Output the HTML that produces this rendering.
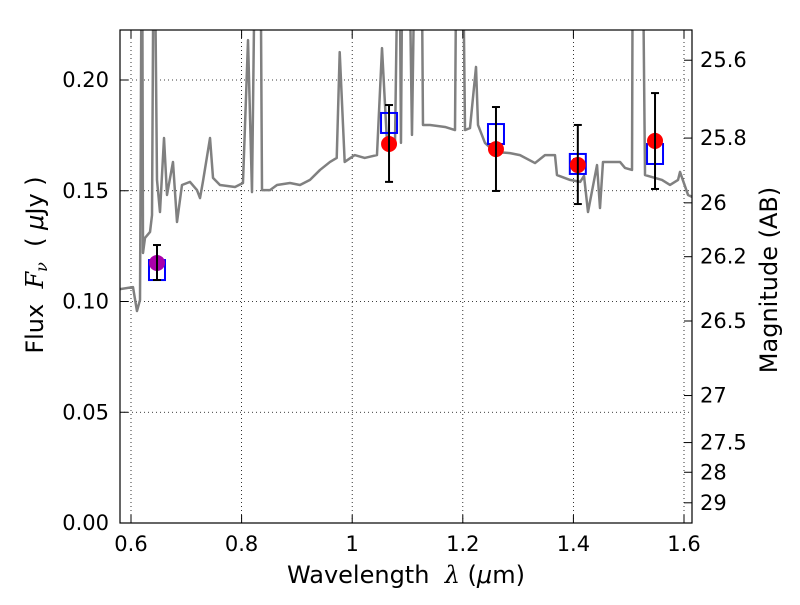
<!DOCTYPE html>
<html><head><meta charset="utf-8"><style>
body{margin:0;background:#fff}
svg text{font-family:"DejaVu Sans","Liberation Sans",sans-serif;fill:#000}
</style></head><body>
<svg id="chart" width="800" height="600" viewBox="0 0 800 600">
<defs><clipPath id="clip"><rect x="120" y="30" width="572" height="493"/></clipPath></defs>
<rect width="800" height="600" fill="#fff"/>
<g id="grid"></g>
<g id="spec" clip-path="url(#clip)"></g>
<g id="marks"></g>
<rect x="120" y="30" width="572" height="493" fill="none" stroke="#000" stroke-width="1.2"/>
<g id="axes"></g>
<text x="406" y="583" font-size="24" text-anchor="middle" xml:space="preserve">Wavelength  <tspan font-family="DejaVu Serif" font-style="italic">λ</tspan> (<tspan font-style="italic">μ</tspan>m)</text>
<text transform="translate(43,265) rotate(-90)" font-size="24" text-anchor="middle" xml:space="preserve">Flux  <tspan font-family="DejaVu Serif" font-style="italic">F<tspan font-size="16" dy="4">ν</tspan></tspan><tspan dy="-4">  ( </tspan><tspan font-style="italic">μ</tspan>Jy )</text>
<text transform="translate(777,280) rotate(-90)" font-size="24" text-anchor="middle">Magnitude (AB)</text>
</svg>
<script>
const specWave=[0.580,0.6036,0.6108,0.6163,0.6199,0.6217,0.6253,0.6344,0.638,0.6416,0.647,0.6524,0.6597,0.6651,0.6759,0.6832,0.6922,0.7067,0.7193,0.7248,0.73,0.7429,0.7483,0.7609,0.7881,0.8025,0.8116,0.8188,0.826,0.8333,0.8369,0.8514,0.864,0.8875,0.9056,0.9237,0.9418,0.9599,0.972,0.9774,0.9864,1.0045,1.0226,1.0448,1.0539,1.0629,1.0774,1.0846,1.0882,1.0919,1.1009,1.1081,1.1154,1.1244,1.128,1.1407,1.1678,1.1859,1.1895,1.1986,1.204,1.213,1.2239,1.2275,1.2401,1.2582,1.2854,1.3034,1.3306,1.3486,1.3667,1.3703,1.3938,1.4123,1.4192,1.4264,1.4427,1.4481,1.4535,1.4843,1.4933,1.506,1.5078,1.524,1.5295,1.5476,1.5602,1.5747,1.5892,1.5928,1.6073,1.615];
const specFlux=[0.1056,0.1065,0.0957,0.1007,0.3,0.1219,0.1287,0.1314,0.139,0.3,0.1549,0.1404,0.1738,0.1481,0.163,0.1359,0.1526,0.154,0.1503,0.1467,0.154,0.1738,0.1558,0.1526,0.1517,0.1535,0.218,0.1494,0.3,0.3,0.1503,0.1503,0.1526,0.1535,0.1526,0.1549,0.1594,0.163,0.1648,0.2126,0.163,0.1661,0.1648,0.1661,0.2144,0.172,0.1716,0.3,0.1716,0.3,0.3,0.1752,0.3,0.3,0.1797,0.1797,0.1788,0.1774,0.3,0.3,0.1774,0.1783,0.2059,0.1797,0.1716,0.1675,0.167,0.1661,0.1625,0.1661,0.1661,0.1571,0.1549,0.154,0.1567,0.1404,0.1616,0.1422,0.163,0.163,0.1603,0.1594,0.3,0.3,0.1571,0.1558,0.1549,0.1526,0.1549,0.1585,0.1481,0.1472];
const photWave=[0.647,1.0666,1.26,1.408,1.5476];
const photFlux=[0.1174,0.1711,0.1688,0.1616,0.1725];
const photErrHi=[0.1255,0.1887,0.1878,0.1797,0.1941];
const photErrLo=[0.1097,0.1540,0.1499,0.1440,0.1508];
const modelFlux=[0.1142,0.1806,0.1756,0.1621,0.1666];
const photColors=["#aa00aa","red","red","red","red"];
const xTicks=[0.6,0.8,1.0,1.2,1.4,1.6];
const xTickLabels=["0.6","0.8","1","1.2","1.4","1.6"];
const yTicks=[0,0.05,0.10,0.15,0.20];
const yTickLabels=["0.00","0.05","0.10","0.15","0.20"];
const magTicks=[25.6,25.8,26,26.2,26.5,27,27.5,28,29];
const magTickLabels=["25.6","25.8","26","26.2","26.5","27","27.5","28","29"];

const NS="http://www.w3.org/2000/svg";
const X=v=>131+(v-0.6)*553;
const Y=v=>523-v*2215;
const magToFlux=m=>Math.pow(10,(23.9-m)/2.5);
function mk(tag,attrs,parent){const e=document.createElementNS(NS,tag);for(const k in attrs)e.setAttribute(k,attrs[k]);parent.appendChild(e);return e;}
const grid=document.getElementById('grid'),axes=document.getElementById('axes'),spec=document.getElementById('spec'),marks=document.getElementById('marks');
xTicks.forEach((t,i)=>{
  const x=X(t);
  const g=mk('line',{x1:x,x2:x,y1:30,y2:523,stroke:'#000','stroke-width':0.8,'stroke-dasharray':'1,3'},grid);
  
  
  mk('line',{x1:x,x2:x,y1:523,y2:515,stroke:'#000'},axes);
  mk('line',{x1:x,x2:x,y1:30,y2:38,stroke:'#000'},axes);
  const tx=mk('text',{x:x,y:551,'font-size':21,'text-anchor':'middle'},axes);
  tx.textContent=xTickLabels[i];
  
  
});
yTicks.forEach((t,i)=>{
  const y=Y(t);
  const g=mk('line',{x1:120,x2:692,y1:y,y2:y,stroke:'#000','stroke-width':0.8,'stroke-dasharray':'1,3'},grid);
  
  
  mk('line',{x1:120,x2:128,y1:y,y2:y,stroke:'#000'},axes);
  const tx=mk('text',{x:109,y:y+7,'font-size':21,'text-anchor':'end'},axes);
  tx.textContent=yTickLabels[i];
  
  
});
magTicks.forEach((m,i)=>{
  const y=Y(magToFlux(m));
  mk('line',{x1:684,x2:692,y1:y,y2:y,stroke:'#000'},axes);
  const tx=mk('text',{x:700,y:y+7,'font-size':21},axes);
  tx.textContent=magTickLabels[i];
  
  
});
const pl=mk('polyline',{points:specWave.map((w,i)=>X(w)+','+Y(specFlux[i])).join(' '),fill:'none',stroke:'#808080','stroke-width':2.5,'stroke-linejoin':'round'},spec);


photWave.forEach((w,i)=>{
  const x=X(w);
  const b=mk('rect',{x:x-8,y:Y(modelFlux[i])-10,width:16,height:20,fill:'none',stroke:'#0000ff','stroke-width':2},marks);
  
  
  const c=mk('circle',{cx:x,cy:Y(photFlux[i]),r:8,fill:photColors[i]},marks);
  
  
  const e=mk('g',{stroke:'#000','stroke-width':2},marks);
  
  
  mk('line',{x1:x,x2:x,y1:Y(photErrHi[i]),y2:Y(photErrLo[i])},e);
  mk('line',{x1:x-4,x2:x+4,y1:Y(photErrHi[i]),y2:Y(photErrHi[i])},e);
  mk('line',{x1:x-4,x2:x+4,y1:Y(photErrLo[i]),y2:Y(photErrLo[i])},e);
});
</script>
</body></html>
